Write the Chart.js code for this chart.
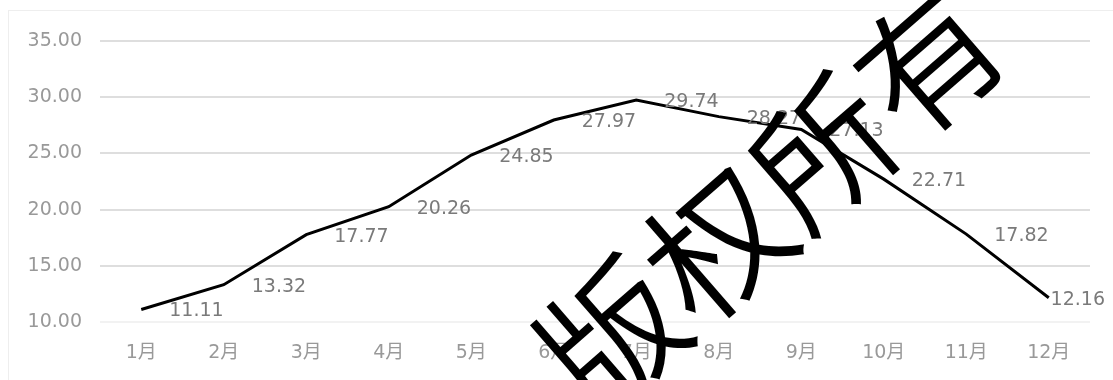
<!DOCTYPE html>
<html>
<head>
<meta charset="utf-8">
<script src="https://cdn.jsdelivr.net/npm/chart.js@4"></script>
<style>
  html, body { margin: 0; padding: 0; background: #fff; }
  #wrap { position: relative; width: 1113px; height: 380px; overflow: hidden; }
  #frame { position: absolute; left: 8px; top: 10px; width: 1120px; height: 390px; border: 1px solid #eeeeee; box-sizing: border-box; }
  #mark {
    position: absolute; left: 765px; top: 192px;
    font-family: "Noto Sans CJK SC"; font-size: 140px; font-weight: 350; line-height: 1; color: #000;
    white-space: nowrap; transform: translate(-50%, -50%) rotate(-41deg);
    pointer-events: none;
  }
</style>
</head>
<body>
<div id="wrap">
  <div id="frame"></div>
  <canvas id="myChart" width="1113" height="380"></canvas>
  <div id="mark">版权所有</div>
</div>
<script>
// 月份
const months = ['1月', '2月', '3月', '4月', '5月', '6月', '7月', '8月', '9月', '10月', '11月', '12月']
// 每月数值
const values = [11.11, 13.32, 17.77, 20.26, 24.85, 27.97, 29.74, 28.27, 27.13, 22.71, 17.82, 12.16]
// y轴刻度
const yTicks = [10, 15, 20, 25, 30, 35]

const fontFamily = '"DejaVu Sans", "Noto Sans CJK SC", sans-serif'

// 数据标签画在点的右侧
const valueLabels = {
  id: 'valueLabels',
  afterDatasetsDraw(chart) {
    const ctx = chart.ctx
    const meta = chart.getDatasetMeta(0)
    ctx.save()
    ctx.font = '19px ' + fontFamily
    ctx.fillStyle = '#7a7a7a'
    ctx.textBaseline = 'middle'
    ctx.textAlign = 'left'
    meta.data.forEach((pt, i) => {
      const text = values[i].toFixed(2)
      const w = ctx.measureText(text).width
      let x = pt.x + 28
      if (x + w > chart.width - 8) x = chart.width - 8 - w
      ctx.fillText(text, x, pt.y + 2)
    })
    ctx.restore()
  }
}

new Chart('myChart', {
  type: 'line',
  data: {
    labels: months,
    datasets: [{
      data: values,
      borderColor: '#000',
      borderWidth: 3,
      pointRadius: 0,
      tension: 0
    }]
  },
  options: {
    responsive: false,
    animation: false,
    layout: { padding: { left: 10, right: 23, top: 41, bottom: 0 } },
    plugins: { legend: { display: false }, tooltip: { enabled: false } },
    scales: {
      x: {
        offset: true,
        grid: { display: false, drawTicks: false },
        border: { display: false },
        ticks: { color: '#999', font: { family: fontFamily, size: 19 }, padding: 20, maxRotation: 0 },
        afterFit(s) { s.height = 58 }
      },
      y: {
        min: 10,
        max: 35,
        afterBuildTicks(s) { s.ticks = yTicks.map(v => ({ value: v })) },
        grid: {
          drawTicks: false,
          lineWidth: 2,
          color: c => c.tick && c.tick.value === 10 ? '#f2f2f2' : '#dedede'
        },
        border: { display: false },
        ticks: {
          color: '#999',
          font: { family: fontFamily, size: 19 },
          padding: 18,
          callback: v => Number(v).toFixed(2)
        },
        afterFit(s) { s.width = 90 }
      }
    }
  },
  plugins: [valueLabels]
})
</script>
</body>
</html>
